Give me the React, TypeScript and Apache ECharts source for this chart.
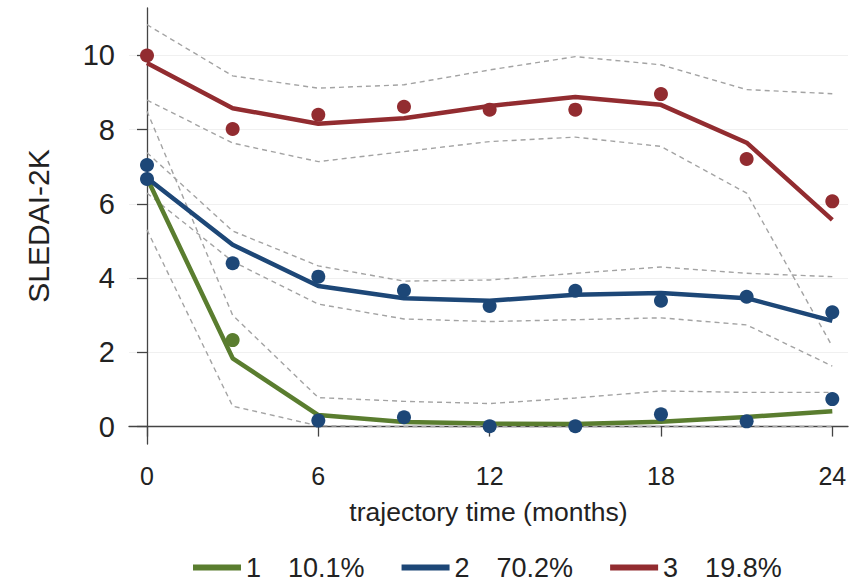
import React, { useEffect, useRef } from "react";
import * as echarts from "echarts";

const months = [0, 3, 6, 9, 12, 15, 18, 21, 24];
const xTicks = [0, 6, 12, 18, 24];
const yTicks = [0, 2, 4, 6, 8, 10];

const groupNames = ["1", "2", "3"];
const groupShares = ["10.1%", "70.2%", "19.8%"];

const fit1 = [6.7, 1.84, 0.31, 0.12, 0.08, 0.07, 0.13, 0.26, 0.41];
const fit2 = [6.7, 4.9, 3.79, 3.46, 3.39, 3.55, 3.6, 3.46, 2.85];
const fit3 = [9.8, 8.58, 8.16, 8.31, 8.64, 8.88, 8.67, 7.65, 5.57];

const obs1 = [6.67, 2.33, 0.16, 0.25, 0.01, 0.01, 0.33, 0.14, 0.74];
const obs2 = [7.05, 4.4, 4.04, 3.67, 3.25, 3.66, 3.39, 3.5, 3.08];
const obs3 = [10.0, 8.02, 8.4, 8.62, 8.54, 8.54, 8.96, 7.21, 6.07];

const lo1 = [5.3, 0.55, 0.02, 0.0, 0.0, 0.0, 0.0, 0.0, 0.0];
const hi1 = [8.5, 3.0, 0.78, 0.68, 0.62, 0.77, 0.96, 0.92, 0.92];
const lo2 = [6.29, 4.45, 3.3, 2.9, 2.83, 2.88, 2.93, 2.74, 1.63];
const hi2 = [7.38, 5.27, 4.33, 3.92, 3.95, 4.13, 4.3, 4.13, 4.04];
const lo3 = [8.8, 7.64, 7.14, 7.41, 7.68, 7.8, 7.55, 6.29, 2.16];
const hi3 = [10.83, 9.45, 9.12, 9.21, 9.61, 9.97, 9.75, 9.08, 8.97];

const GREEN = "#5a7d2f";
const BLUE = "#1d4777";
const RED = "#922c30";
const FONT = "'Liberation Sans', Arial, sans-serif";

const pts = (arr: number[]) => months.map((m, i) => [m, arr[i]]);

export default function App() {
  const ref = useRef<HTMLDivElement>(null);
  useEffect(() => {
    if (!ref.current) return;
    const chart = echarts.init(ref.current, null, { renderer: "svg" });
    const ciSeries = [lo1, hi1, lo2, hi2, lo3, hi3].map((arr, k) => ({
      name: "ci" + k,
      type: "line",
      data: pts(arr),
      showSymbol: false,
      symbol: "none",
      silent: true,
      z: 1,
      lineStyle: { type: [5, 4], width: 1.4, color: "#a3a3a3" },
    }));
    const fitColors = [GREEN, BLUE, RED];
    const fitSeries = [fit1, fit2, fit3].map((arr, k) => ({
      name: groupNames[k],
      type: "line",
      data: pts(arr),
      symbol: "none",
      showSymbol: false,
      z: 3,
      itemStyle: { color: fitColors[k] },
      lineStyle: { width: 4.5, color: fitColors[k] },
    }));
    const obsSeries = [
      {
        name: "obs1",
        type: "scatter",
        data: pts(obs1),
        symbolSize: 14,
        z: 4,
        itemStyle: { opacity: 1, color: (p: any) => (p.dataIndex === 1 ? GREEN : BLUE) },
      },
      { name: "obs2", type: "scatter", data: pts(obs2), symbolSize: 14, z: 4, itemStyle: { opacity: 1, color: BLUE } },
      { name: "obs3", type: "scatter", data: pts(obs3), symbolSize: 14, z: 4, itemStyle: { opacity: 1, color: RED } },
    ];
    const shareOf: Record<string, string> = {};
    groupNames.forEach((n, i) => (shareOf[n] = groupShares[i]));

    chart.setOption({
      animation: false,
      textStyle: { fontFamily: FONT },
      grid: { left: 129, right: 11, top: 8, bottom: 142, containLabel: false },
      xAxis: {
        type: "value",
        min: -0.63,
        max: 24.55,
        name: "trajectory time (months)",
        nameLocation: "middle",
        nameGap: 54,
        nameTextStyle: { fontSize: 26.5, color: "#222", fontFamily: FONT },
        axisLine: { show: true, lineStyle: { color: "#444", width: 1.3 } },
        axisTick: { show: true, length: 10, customValues: xTicks, lineStyle: { color: "#444", width: 1.3 } },
        axisLabel: { customValues: xTicks, fontSize: 25, color: "#222", margin: 19, fontFamily: FONT },
        splitLine: { show: false },
      },
      yAxis: {
        type: "value",
        min: -0.47,
        max: 11.28,
        name: "SLEDAI-2K",
        nameLocation: "middle",
        nameGap: 76,
        nameTextStyle: { fontSize: 30, color: "#222", fontFamily: FONT },
        axisLine: { show: true, lineStyle: { color: "#444", width: 1.3 } },
        axisTick: { show: true, length: 10, customValues: yTicks, lineStyle: { color: "#444", width: 1.3 } },
        axisLabel: { customValues: yTicks, fontSize: 29, color: "#222", margin: 14, fontFamily: FONT },
        splitLine: { show: true, lineStyle: { color: "#f0f0f0", width: 1 } },
      },
      legend: {
        data: groupNames,
        left: 188,
        top: 549,
        icon: "rect",
        itemWidth: 48,
        itemHeight: 6,
        itemGap: 37,
        formatter: (name: string) => `{n|${name}}{p|${shareOf[name]}}`,
        textStyle: {
          fontSize: 27,
          color: "#222",
          fontFamily: FONT,
          rich: {
            n: { width: 42, fontSize: 27, fontFamily: FONT, color: "#222" },
            p: { fontSize: 27, fontFamily: FONT, color: "#222" },
          },
        },
      },
      series: [...ciSeries, ...fitSeries, ...obsSeries],
    });
    return () => chart.dispose();
  }, []);
  return <div ref={ref} style={{ width: 859, height: 586, position: "absolute", left: 0, top: 0 }} />;
}
